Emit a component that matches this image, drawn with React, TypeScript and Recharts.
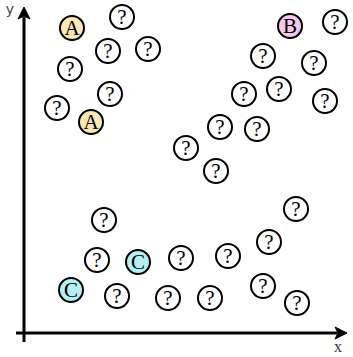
import React from 'react';
import { ScatterChart, Scatter, XAxis, YAxis, ReferenceLine } from 'recharts';

// Points in chart units: origin at the axes' crossing, y upward
const aPoints = [
  { x: 48, y: 305 },
  { x: 67, y: 211 },
];
const bPoints = [{ x: 266, y: 307 }];
const cPoints = [
  { x: 114, y: 71 },
  { x: 47, y: 43 },
];
const qPoints = [
  { x: 98, y: 316 },
  { x: 84, y: 282 },
  { x: 124, y: 284 },
  { x: 46, y: 264 },
  { x: 86, y: 239 },
  { x: 33, y: 225 },
  { x: 311, y: 311 },
  { x: 239, y: 277 },
  { x: 290, y: 270 },
  { x: 220, y: 239 },
  { x: 255, y: 244 },
  { x: 301, y: 232 },
  { x: 196, y: 206 },
  { x: 233, y: 204 },
  { x: 162, y: 185 },
  { x: 192, y: 162 },
  { x: 80, y: 113 },
  { x: 73, y: 73 },
  { x: 157, y: 75 },
  { x: 204, y: 77 },
  { x: 245, y: 91 },
  { x: 272, y: 124 },
  { x: 93, y: 37 },
  { x: 144, y: 35 },
  { x: 186, y: 35 },
  { x: 239, y: 47 },
  { x: 273, y: 30 },
];

const xAxisSegment = [
  { x: -8, y: 0 },
  { x: 323, y: 0 },
];
const yAxisSegment = [
  { x: 0, y: -9 },
  { x: 0, y: 326 },
];

const makeShape = (label: string, fill: string) => (props: any) => {
  const { cx, cy } = props;
  return (
    <g>
      <circle cx={cx} cy={cy} r={12} fill={fill} stroke="#000" strokeWidth={2} />
      <text
        x={cx}
        y={cy + 7}
        textAnchor="middle"
        fontFamily="'Liberation Serif', 'DejaVu Serif', serif"
        fontSize={21}
        fill="#000"
      >
        {label}
      </text>
    </g>
  );
};

const arrowShape = (label: string, lx: number, ly: number, family: string, color: string, size: number) => (props: any) => {
  const { x1, y1, x2, y2 } = props;
  const dx = x2 - x1;
  const dy = y2 - y1;
  const len = Math.sqrt(dx * dx + dy * dy) || 1;
  const ux = dx / len;
  const uy = dy / len;
  const headLen = 12;
  const half = 6;
  const bx = x2 - ux * headLen;
  const by = y2 - uy * headLen;
  const px = -uy;
  const py = ux;
  const pts = `${x2},${y2} ${bx + px * half},${by + py * half} ${bx + ux * 3},${by + uy * 3} ${bx - px * half},${by - py * half}`;
  return (
    <g>
      <line x1={x1} y1={y1} x2={bx + ux * 2} y2={by + uy * 2} stroke="#000" strokeWidth={3} />
      <polygon points={pts} fill="#000" stroke="#000" strokeWidth={1} />
      <text x={x2 + lx} y={y2 + ly} textAnchor="middle" fontFamily={family} fontSize={size} fill={color}>
        {label}
      </text>
    </g>
  );
};

export default function App() {
  return (
    <div style={{ position: 'absolute', left: 0, top: 0, background: '#fff' }}>
      <ScatterChart width={353} height={357} margin={{ top: 0, right: 0, bottom: 0, left: 0 }}>
        <XAxis type="number" dataKey="x" domain={[-24, 329]} hide allowDataOverflow />
        <YAxis type="number" dataKey="y" domain={[-24, 333]} hide allowDataOverflow />
        <ReferenceLine
          segment={xAxisSegment}
          ifOverflow="visible"
          shape={arrowShape('x', -9, 19, "'Liberation Serif', serif", '#333', 16)}
        />
        <ReferenceLine
          segment={yAxisSegment}
          ifOverflow="visible"
          shape={arrowShape('y', -14, 7, "'DejaVu Sans', sans-serif", '#444', 14)}
        />
        <Scatter name="?" data={qPoints} isAnimationActive={false} shape={makeShape('?', '#fff')} />
        <Scatter name="A" data={aPoints} isAnimationActive={false} shape={makeShape('A', '#fbe6b6')} />
        <Scatter name="B" data={bPoints} isAnimationActive={false} shape={makeShape('B', '#f8c6ec')} />
        <Scatter name="C" data={cPoints} isAnimationActive={false} shape={makeShape('C', '#b6eef2')} />
      </ScatterChart>
    </div>
  );
}
